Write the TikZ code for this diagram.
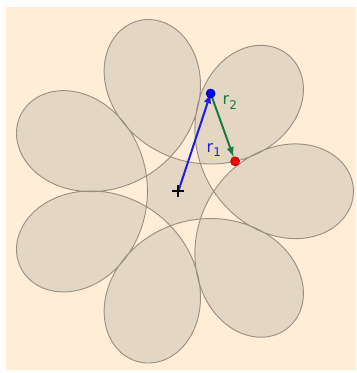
\documentclass[tikz,border=0pt]{standalone}
\usepackage{fontspec}
\setmainfont{DejaVu Sans}
\usetikzlibrary{calc}
\definecolor{paper}{HTML}{FFEED7}
\definecolor{petal}{HTML}{E3D7C3}
\definecolor{rim}{HTML}{857C70}
\definecolor{armblue}{HTML}{1F1FE0}
\definecolor{armgreen}{HTML}{1C7A3C}
\newcommand{\sub}[1]{\raisebox{-0.55ex}{\small #1}}
\begin{document}
\begin{tikzpicture}[x=2.715cm, y=2.715cm, >=latex]
		\useasboundingbox (-1.731,-1.764) rectangle (1.725,1.857);
		\fill[paper] (-1.673,-1.735) rectangle (1.725,1.789);
		% r1 = 1, r2 = 0.7, second arm turns -6 times as fast
		\filldraw[fill=petal, draw=rim, draw opacity=0.8, line width=0.7pt]
			plot[domain=0:360, samples=1081, smooth] ({cos(\x)+0.7*cos(-6*\x)},{sin(\x)+0.7*sin(-6*\x)}) -- cycle;
		\coordinate (O) at (0,0);
		\coordinate (P) at (71.7:1);
		\coordinate (Q) at ($(P)+(-430.2:0.7)$);
		\draw[->, line width=1.5pt, armblue] (O) -- (P);
		\draw[->, line width=1.5pt, armgreen, shorten >=3.5pt] (P) -- (Q);
		\draw[line width=1.4pt] (-0.06,0) -- (0.06,0) (0,-0.06) -- (0,0.06);
		\filldraw[fill=blue, draw=blue!60!black, line width=0.4pt] (P) circle (0.044);
		\filldraw[fill=red, draw=red!60!black, line width=0.4pt] (Q) circle (0.044);
		\node[armblue, font=\fontsize{12}{14}\selectfont] (lab1) at (0.345,0.40) {r\sub{1}};
		\node[armgreen, font=\fontsize{12}{14}\selectfont] (lab2) at (0.50,0.86) {r\sub{2}};
	\end{tikzpicture}
\end{document}
